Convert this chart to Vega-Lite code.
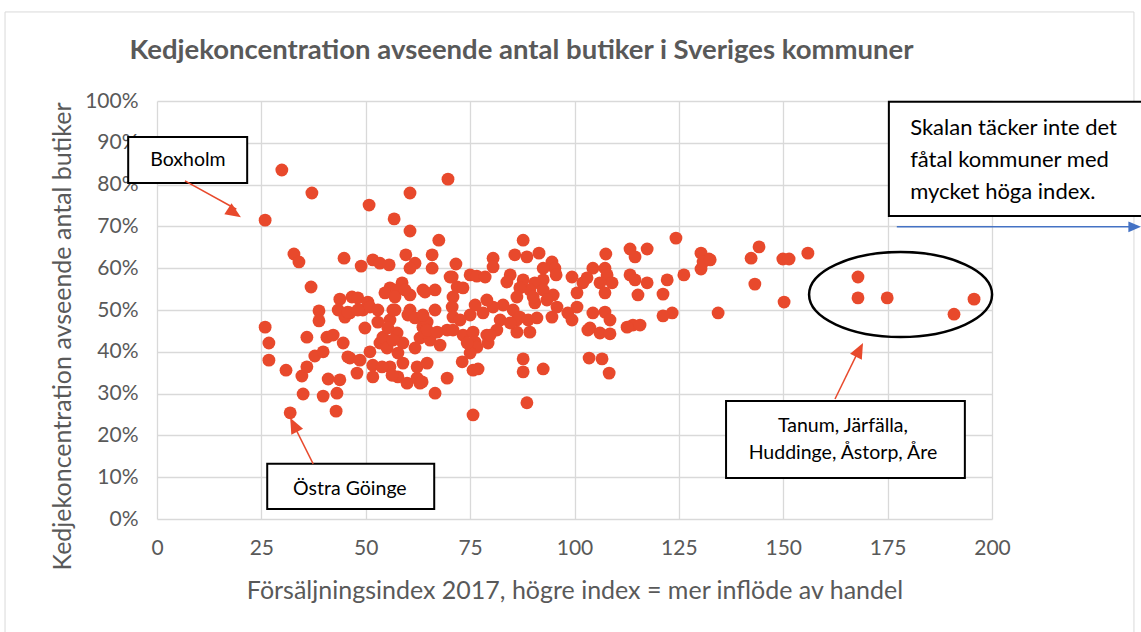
{
  "$schema": "https://vega.github.io/schema/vega-lite/v6.json",
  "width": 835,
  "height": 418,
  "autosize": {"type": "none"},
  "padding": {"left": 157, "top": 101, "right": 149, "bottom": 113},
  "background": "white",
  "config": {
    "font": "Lato",
    "view": {"stroke": null},
    "axis": {
      "grid": true,
      "gridColor": "#d9d9d9",
      "gridWidth": 1.3,
      "domain": false,
      "ticks": false,
      "labelFlush": false,
      "labelColor": "#595959",
      "labelFontSize": 21,
      "titleColor": "#595959",
      "titleFontSize": 25,
      "titleFontWeight": "normal"
    }
  },
  "title": {
    "text": "Kedjekoncentration avseende antal butiker i Sveriges kommuner",
    "fontSize": 27.5,
    "fontWeight": "bold",
    "color": "#595959",
    "anchor": "middle",
    "frame": "group",
    "baseline": "middle",
    "dx": -53,
    "offset": -67
  },
  "layer": [
    {
      "data": {"values": [{"index": -36.4, "index2": 234.0, "andel": 1.213, "andel2": -0.4}]},
      "mark": {"type": "rect", "fillOpacity": 0, "stroke": "#d9d9d9", "strokeWidth": 1},
      "encoding": {
        "x": {"field": "index", "type": "quantitative", "scale": {"domain": [0, 200], "nice": false, "zero": false},
              "axis": {"title": "Försäljningsindex 2017, högre index = mer inflöde av handel", "values": [0, 25, 50, 75, 100, 125, 150, 175, 200], "labelPadding": 18, "titleY": 71, "titleBaseline": "middle"}},
        "x2": {"field": "index2"},
        "y": {"field": "andel", "type": "quantitative", "scale": {"domain": [0, 1], "nice": false, "zero": false},
              "axis": {"title": "Kedjekoncentration avseende antal butiker", "values": [0, 0.1, 0.2, 0.3, 0.4, 0.5, 0.6, 0.7, 0.8, 0.9, 1], "format": ".0%", "labelPadding": 19, "titleX": -95, "titleY": 235, "titleBaseline": "middle", "titleAngle": -90}},
        "y2": {"field": "andel2"}
      }
    },
    {
      "data": {"values": [
        {"index":29.9,"andel":0.835},{"index":37.1,"andel":0.780},{"index":25.9,"andel":0.715},{"index":50.8,"andel":0.751},
        {"index":60.6,"andel":0.780},{"index":56.8,"andel":0.718},{"index":60.6,"andel":0.689},{"index":69.7,"andel":0.813},
        {"index":67.5,"andel":0.667},{"index":32.8,"andel":0.634},{"index":34.0,"andel":0.615},{"index":44.8,"andel":0.624},
        {"index":48.9,"andel":0.605},{"index":51.7,"andel":0.620},{"index":53.4,"andel":0.612},{"index":55.6,"andel":0.608},
        {"index":59.6,"andel":0.632},{"index":61.8,"andel":0.612},{"index":60.6,"andel":0.600},{"index":65.9,"andel":0.632},
        {"index":65.9,"andel":0.600},{"index":36.9,"andel":0.555},{"index":43.8,"andel":0.526},{"index":46.7,"andel":0.531},
        {"index":48.1,"andel":0.529},{"index":50.5,"andel":0.519},{"index":55.8,"andel":0.553},{"index":54.6,"andel":0.541},
        {"index":58.7,"andel":0.565},{"index":57.5,"andel":0.548},{"index":60.6,"andel":0.536},{"index":63.7,"andel":0.548},
        {"index":66.6,"andel":0.548},{"index":70.2,"andel":0.579},{"index":25.9,"andel":0.459},{"index":26.8,"andel":0.421},
        {"index":26.8,"andel":0.380},{"index":30.9,"andel":0.356},{"index":34.7,"andel":0.342},{"index":35.9,"andel":0.364},
        {"index":35.0,"andel":0.299},{"index":31.9,"andel":0.254},{"index":35.9,"andel":0.435},{"index":38.8,"andel":0.498},
        {"index":38.8,"andel":0.474},{"index":37.8,"andel":0.390},{"index":39.8,"andel":0.400},{"index":40.7,"andel":0.435},
        {"index":42.2,"andel":0.440},{"index":44.6,"andel":0.421},{"index":41.0,"andel":0.335},{"index":43.8,"andel":0.333},
        {"index":39.8,"andel":0.294},{"index":43.1,"andel":0.301},{"index":42.9,"andel":0.258},{"index":43.4,"andel":0.500},
        {"index":46.2,"andel":0.493},{"index":49.3,"andel":0.500},{"index":49.8,"andel":0.457},{"index":51.0,"andel":0.507},
        {"index":46.2,"andel":0.385},{"index":47.9,"andel":0.349},{"index":48.6,"andel":0.380},{"index":51.0,"andel":0.400},
        {"index":51.7,"andel":0.340},{"index":53.4,"andel":0.421},{"index":54.6,"andel":0.423},{"index":55.8,"andel":0.364},
        {"index":57.7,"andel":0.340},{"index":58.9,"andel":0.373},{"index":59.9,"andel":0.325},{"index":62.3,"andel":0.337},
        {"index":63.0,"andel":0.325},{"index":57.7,"andel":0.397},{"index":62.3,"andel":0.364},{"index":64.7,"andel":0.373},
        {"index":66.6,"andel":0.301},{"index":69.5,"andel":0.337},{"index":55.8,"andel":0.476},{"index":56.5,"andel":0.500},
        {"index":60.6,"andel":0.500},{"index":63.7,"andel":0.483},{"index":66.6,"andel":0.500},{"index":63.7,"andel":0.459},
        {"index":63.0,"andel":0.433},{"index":65.4,"andel":0.428},{"index":67.8,"andel":0.416},{"index":54.1,"andel":0.435},
        {"index":57.5,"andel":0.445},{"index":58.9,"andel":0.421},{"index":69.5,"andel":0.452},{"index":45.7,"andel":0.388},
        {"index":51.7,"andel":0.368},{"index":55.1,"andel":0.409},{"index":56.5,"andel":0.428},{"index":53.9,"andel":0.364},
        {"index":56.3,"andel":0.344},{"index":61.8,"andel":0.409},{"index":64.2,"andel":0.447},{"index":64.7,"andel":0.471},
        {"index":45.0,"andel":0.483},{"index":52.9,"andel":0.471},{"index":55.3,"andel":0.457},{"index":60.1,"andel":0.488},
        {"index":61.8,"andel":0.481},{"index":57.0,"andel":0.531},{"index":59.4,"andel":0.548},{"index":45.7,"andel":0.495},
        {"index":48.1,"andel":0.500},{"index":52.9,"andel":0.500},{"index":57.0,"andel":0.500},{"index":71.6,"andel":0.610},
        {"index":80.5,"andel":0.624},{"index":80.5,"andel":0.603},{"index":87.7,"andel":0.667},{"index":85.7,"andel":0.632},
        {"index":88.6,"andel":0.627},{"index":91.5,"andel":0.636},{"index":94.6,"andel":0.615},{"index":95.3,"andel":0.600},
        {"index":92.5,"andel":0.600},{"index":107.5,"andel":0.634},{"index":113.3,"andel":0.646},{"index":114.5,"andel":0.627},
        {"index":117.4,"andel":0.646},{"index":124.3,"andel":0.672},{"index":130.3,"andel":0.636},{"index":132.2,"andel":0.622},
        {"index":130.3,"andel":0.598},{"index":126.2,"andel":0.584},{"index":122.2,"andel":0.572},{"index":121.2,"andel":0.538},
        {"index":123.4,"andel":0.493},{"index":121.2,"andel":0.486},{"index":117.4,"andel":0.565},{"index":115.2,"andel":0.536},
        {"index":113.3,"andel":0.584},{"index":114.5,"andel":0.572},{"index":104.4,"andel":0.600},{"index":107.3,"andel":0.600},
        {"index":107.8,"andel":0.584},{"index":109.0,"andel":0.565},{"index":106.1,"andel":0.565},{"index":107.3,"andel":0.541},
        {"index":103.0,"andel":0.577},{"index":102.0,"andel":0.565},{"index":99.4,"andel":0.579},{"index":114.0,"andel":0.464},
        {"index":112.6,"andel":0.459},{"index":115.7,"andel":0.464},{"index":107.3,"andel":0.495},{"index":108.5,"andel":0.476},
        {"index":104.4,"andel":0.493},{"index":103.7,"andel":0.457},{"index":106.1,"andel":0.445},{"index":108.5,"andel":0.443},
        {"index":100.6,"andel":0.541},{"index":100.6,"andel":0.507},{"index":98.4,"andel":0.493},{"index":99.4,"andel":0.476},
        {"index":94.6,"andel":0.483},{"index":95.8,"andel":0.507},{"index":94.9,"andel":0.536},{"index":95.6,"andel":0.584},
        {"index":92.5,"andel":0.572},{"index":90.5,"andel":0.565},{"index":90.5,"andel":0.517},{"index":89.3,"andel":0.548},
        {"index":87.7,"andel":0.572},{"index":86.9,"andel":0.553},{"index":84.6,"andel":0.584},{"index":83.8,"andel":0.567},
        {"index":86.2,"andel":0.531},{"index":85.3,"andel":0.500},{"index":86.2,"andel":0.476},{"index":86.2,"andel":0.447},
        {"index":82.9,"andel":0.512},{"index":82.2,"andel":0.476},{"index":81.4,"andel":0.452},{"index":80.5,"andel":0.507},
        {"index":79.0,"andel":0.524},{"index":78.1,"andel":0.493},{"index":76.2,"andel":0.512},{"index":75.0,"andel":0.584},
        {"index":76.6,"andel":0.581},{"index":78.6,"andel":0.579},{"index":75.0,"andel":0.488},{"index":70.9,"andel":0.531},
        {"index":70.7,"andel":0.507},{"index":70.9,"andel":0.483},{"index":71.9,"andel":0.555},{"index":73.3,"andel":0.553},
        {"index":70.7,"andel":0.579},{"index":64.2,"andel":0.543},{"index":63.7,"andel":0.488},{"index":64.7,"andel":0.452},
        {"index":67.1,"andel":0.447},{"index":72.6,"andel":0.476},{"index":73.3,"andel":0.440},{"index":75.7,"andel":0.447},
        {"index":79.0,"andel":0.440},{"index":76.2,"andel":0.423},{"index":79.3,"andel":0.421},{"index":90.1,"andel":0.531},
        {"index":86.9,"andel":0.483},{"index":84.6,"andel":0.469},{"index":88.9,"andel":0.476},{"index":89.3,"andel":0.447},
        {"index":91.0,"andel":0.481},{"index":92.5,"andel":0.548},{"index":93.4,"andel":0.524},{"index":87.7,"andel":0.383},
        {"index":87.7,"andel":0.352},{"index":92.5,"andel":0.359},{"index":88.6,"andel":0.278},{"index":75.7,"andel":0.249},
        {"index":103.5,"andel":0.385},{"index":106.6,"andel":0.383},{"index":108.3,"andel":0.349},{"index":76.9,"andel":0.359},
        {"index":75.7,"andel":0.356},{"index":73.1,"andel":0.376},{"index":63.5,"andel":0.328},{"index":76.6,"andel":0.411},
        {"index":75.0,"andel":0.397},{"index":74.3,"andel":0.421},{"index":79.8,"andel":0.440},{"index":103.2,"andel":0.452},
        {"index":134.4,"andel":0.493},{"index":70.9,"andel":0.452},{"index":130.8,"andel":0.615},{"index":132.5,"andel":0.620},
        {"index":144.2,"andel":0.651},{"index":142.3,"andel":0.624},{"index":149.9,"andel":0.622},{"index":151.4,"andel":0.622},
        {"index":155.9,"andel":0.636},{"index":143.2,"andel":0.562},{"index":150.2,"andel":0.519},{"index":167.9,"andel":0.579},
        {"index":167.9,"andel":0.529},{"index":174.9,"andel":0.529},{"index":195.7,"andel":0.526},{"index":190.9,"andel":0.490}
      ]},
      "mark": {"type": "circle", "size": 165, "color": "#E8492C", "opacity": 1},
      "encoding": {
        "x": {"field": "index", "type": "quantitative"},
        "y": {"field": "andel", "type": "quantitative"}
      }
    },
    {
      "data": {"values": [
        {"index": -6.9, "index2": 21.6, "andel": 0.914, "andel2": 0.804},
        {"index": 26.4, "index2": 66.4, "andel": 0.132, "andel2": 0.024},
        {"index": 136.3, "index2": 193.5, "andel": 0.282, "andel2": 0.098},
        {"index": 175.3, "index2": 237.5, "andel": 0.998, "andel2": 0.725}
      ]},
      "mark": {"type": "rect", "fill": "white", "stroke": "black", "strokeWidth": 2},
      "encoding": {
        "x": {"field": "index", "type": "quantitative"},
        "x2": {"field": "index2"},
        "y": {"field": "andel", "type": "quantitative"},
        "y2": {"field": "andel2"}
      }
    },
    {
      "data": {"values": [
        {"index": 7.4, "andel": 0.859, "label": "Boxholm"},
        {"index": 46.2, "andel": 0.072, "label": "Östra Göinge"},
        {"index": 164.3, "andel": 0.222, "label": "Tanum, Järfälla,\nHuddinge, Åstorp, Åre"}
      ]},
      "mark": {"type": "text", "fontSize": 19.5, "color": "black", "align": "center", "baseline": "middle", "lineBreak": "\n", "lineHeight": 27},
      "encoding": {
        "x": {"field": "index", "type": "quantitative"},
        "y": {"field": "andel", "type": "quantitative"},
        "text": {"field": "label"}
      }
    },
    {
      "data": {"values": [
        {"index": 180.4, "andel": 0.935, "label": "Skalan täcker inte det\nfåtal kommuner med\nmycket höga index."}
      ]},
      "mark": {"type": "text", "fontSize": 22, "color": "black", "align": "left", "baseline": "middle", "lineBreak": "\n", "lineHeight": 32},
      "encoding": {
        "x": {"field": "index", "type": "quantitative"},
        "y": {"field": "andel", "type": "quantitative"},
        "text": {"field": "label"}
      }
    },
    {
      "data": {"values": [
        {"index": 6.7, "andel": 0.809, "index2": 19.0, "andel2": 0.741},
        {"index": 37.4, "andel": 0.132, "index2": 32.5, "andel2": 0.230},
        {"index": 162.4, "andel": 0.287, "index2": 168.4, "andel2": 0.410}
      ]},
      "mark": {"type": "rule", "color": "#E8492C", "strokeWidth": 1.5},
      "encoding": {
        "x": {"field": "index", "type": "quantitative"},
        "y": {"field": "andel", "type": "quantitative"},
        "x2": {"field": "index2"},
        "y2": {"field": "andel2"}
      }
    },
    {
      "data": {"values": [{"index": 177.2, "andel": 0.699, "index2": 233.0, "andel2": 0.699}]},
      "mark": {"type": "rule", "color": "#4472C4", "strokeWidth": 1.5},
      "encoding": {
        "x": {"field": "index", "type": "quantitative"},
        "y": {"field": "andel", "type": "quantitative"},
        "x2": {"field": "index2"},
        "y2": {"field": "andel2"}
      }
    },
    {
      "data": {"values": [{"index": 20.1, "andel": 0.722}]},
      "mark": {"type": "point", "shape": "M0,0 L0.85,2 L-0.85,2 Z", "size": 240, "filled": true, "color": "#E8492C", "opacity": 1, "angle": 123},
      "encoding": {"x": {"field": "index", "type": "quantitative"}, "y": {"field": "andel", "type": "quantitative"}}
    },
    {
      "data": {"values": [{"index": 31.9, "andel": 0.242}]},
      "mark": {"type": "point", "shape": "M0,0 L0.85,2 L-0.85,2 Z", "size": 240, "filled": true, "color": "#E8492C", "opacity": 1, "angle": -27},
      "encoding": {"x": {"field": "index", "type": "quantitative"}, "y": {"field": "andel", "type": "quantitative"}}
    },
    {
      "data": {"values": [{"index": 169.1, "andel": 0.421}]},
      "mark": {"type": "point", "shape": "M0,0 L0.85,2 L-0.85,2 Z", "size": 240, "filled": true, "color": "#E8492C", "opacity": 1, "angle": 27},
      "encoding": {"x": {"field": "index", "type": "quantitative"}, "y": {"field": "andel", "type": "quantitative"}}
    },
    {
      "data": {"values": [{"index": 235.7, "andel": 0.699}]},
      "mark": {"type": "point", "shape": "M0,0 L0.85,2 L-0.85,2 Z", "size": 160, "filled": true, "color": "#4472C4", "opacity": 1, "angle": 90},
      "encoding": {"x": {"field": "index", "type": "quantitative"}, "y": {"field": "andel", "type": "quantitative"}}
    },
    {
      "data": {"values": [{"index": 178.1, "andel": 0.537}]},
      "mark": {"type": "point", "shape": "M-1,0 A1,0.464 0 1,0 1,0 A1,0.464 0 1,0 -1,0 Z", "size": 33489, "filled": false, "stroke": "black", "strokeWidth": 2.5, "opacity": 1},
      "encoding": {"x": {"field": "index", "type": "quantitative"}, "y": {"field": "andel", "type": "quantitative"}}
    }
  ]
}
